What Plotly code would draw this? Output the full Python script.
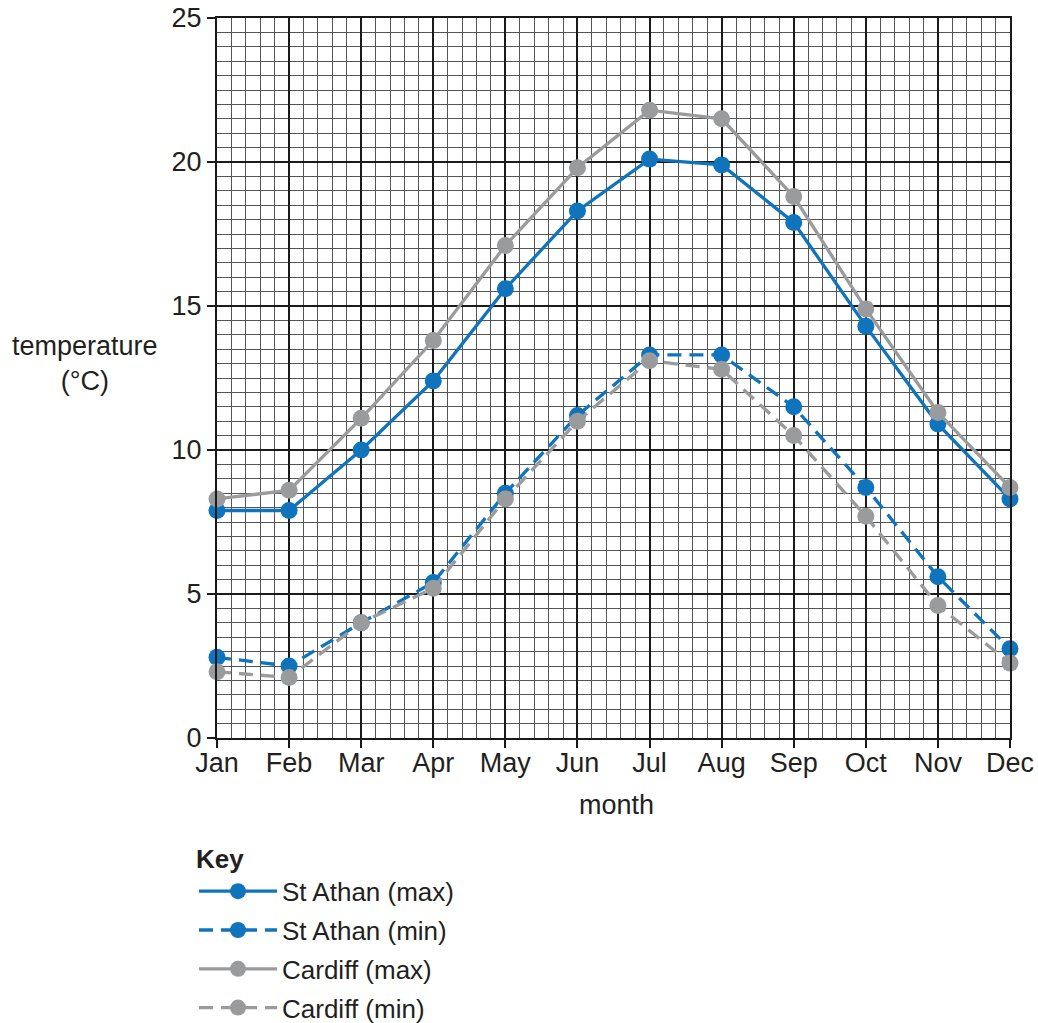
import plotly.graph_objects as go

months = ["Jan", "Feb", "Mar", "Apr", "May", "Jun", "Jul", "Aug", "Sep", "Oct", "Nov", "Dec"]
st_athan_max = [7.9, 7.9, 10.0, 12.4, 15.6, 18.3, 20.1, 19.9, 17.9, 14.3, 10.9, 8.3]
st_athan_min = [2.8, 2.5, 4.0, 5.4, 8.5, 11.2, 13.3, 13.3, 11.5, 8.7, 5.6, 3.1]
cardiff_max = [8.3, 8.6, 11.1, 13.8, 17.1, 19.8, 21.8, 21.5, 18.8, 14.9, 11.3, 8.7]
cardiff_min = [2.3, 2.1, 4.0, 5.2, 8.3, 11.0, 13.1, 12.8, 10.5, 7.7, 4.6, 2.6]
y_ticks = [0, 5, 10, 15, 20, 25]

BLUE = "#0f74bc"
GREY = "#9a9b9d"
FONT = "Liberation Sans, Arial, sans-serif"
TXT = "#231f20"
FS = 27

x = list(range(len(months)))

series = [
    ("St Athan (max)", st_athan_max, BLUE, "solid"),
    ("St Athan (min)", st_athan_min, BLUE, "14px,8px"),
    ("Cardiff (max)", cardiff_max, GREY, "solid"),
    ("Cardiff (min)", cardiff_min, GREY, "14px,8px"),
]

fig = go.Figure()
for name, vals, col, dash in series:
    fig.add_trace(go.Scatter(
        x=x, y=vals, name=name, mode="lines+markers",
        line=dict(color=col, width=3.3, dash=dash),
        marker=dict(color=col, size=17),
        legendgroup=name, cliponaxis=False,
    ))

W, H = 1038, 1023
PL, PT = 217, 18  # plot-area corners in page coords
PR, PB = 1010, 738
fig.update_layout(
    width=W, height=H,
    margin=dict(l=PL, r=W - PR, t=PT, b=H - PB, autoexpand=False),
    paper_bgcolor="white", plot_bgcolor="white",
    font=dict(family=FONT, color=TXT, size=FS),
    showlegend=True,
    legend=dict(
        title=dict(text="<b>Key</b>", font=dict(size=FS - 1, family=FONT, color=TXT)),
        x=(194 - PL) / (PR - PL), xanchor="left",
        y=-(834 - PB) / (PB - PT), yanchor="top",
        font=dict(size=FS - 1, family=FONT, color=TXT),
        tracegroupgap=2, itemwidth=78,
        bgcolor="rgba(0,0,0,0)",
    ),
    xaxis=dict(
        range=[0, 11], tickvals=x, ticktext=months,
        showgrid=True, gridcolor="#1a1a1a", gridwidth=1.5,
        minor=dict(dtick=0.2, showgrid=True, gridcolor="#555555", gridwidth=1.2),
        showline=True, linecolor="#1a1a1a", linewidth=2, mirror=True,
        ticks="outside", ticklen=8, tickcolor="#1a1a1a", tickwidth=2,
        tickfont=dict(size=FS, family=FONT, color=TXT),
        ticklabelstandoff=-8, ticklabeloverflow="allow",
        zeroline=False, fixedrange=True,
    ),
    yaxis=dict(
        range=[0, 25], tickvals=y_ticks,
        showgrid=True, gridcolor="#1a1a1a", gridwidth=1.5,
        minor=dict(dtick=0.5, showgrid=True, gridcolor="#555555", gridwidth=1.2),
        showline=True, linecolor="#1a1a1a", linewidth=2, mirror=True,
        ticks="outside", ticklen=8, tickcolor="#1a1a1a", tickwidth=2,
        tickfont=dict(size=FS, family=FONT, color=TXT),
        ticklabeloverflow="allow",
        zeroline=False, fixedrange=True,
    ),
)

fig.add_annotation(
    text="temperature<br>(°C)", xref="paper", yref="paper",
    x=(85 - PL) / (PR - PL), y=(PB - 364) / (PB - PT), xanchor="center", yanchor="middle",
    showarrow=False, font=dict(size=FS, family=FONT, color=TXT), align="center",
)
fig.add_annotation(
    text="month", xref="paper", yref="paper",
    x=(616 - PL) / (PR - PL), y=(PB - 805) / (PB - PT), xanchor="center", yanchor="middle",
    showarrow=False, font=dict(size=FS, family=FONT, color=TXT),
)

fig.write_html(
    "out.html",
    config={"displayModeBar": False},
    post_script="document.body.style.margin='0';document.body.style.overflow='hidden';",
)
